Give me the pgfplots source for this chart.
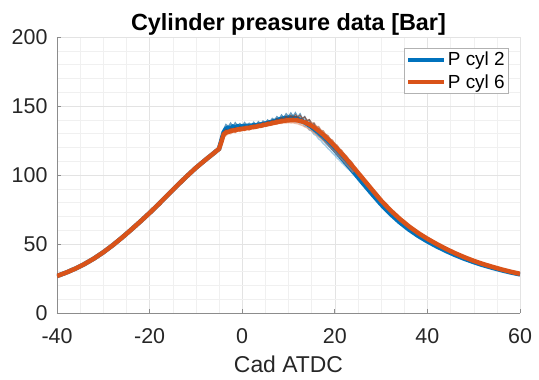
\documentclass[border=0pt]{standalone}
\usepackage{pgfplots}
\pgfplotsset{compat=1.18}
\usepackage{fontspec}
\setmainfont{Liberation Sans}
\definecolor{mblue}{rgb}{0,0.447,0.741}
\definecolor{morange}{rgb}{0.85,0.325,0.098}
\definecolor{axgray}{gray}{0.55}
\definecolor{txt}{gray}{0.15}

\pgfplotstableread{
x y
-40 26.8
-38 29.3
-36 32.2
-34 35.6
-32 39.5
-30 44.0
-28 49.0
-26 54.5
-24 60.3
-22 66.3
-20 72.5
-18 79.0
-16 85.8
-14 92.5
-12 99.0
-10 105.2
-8 110.8
-6 116.2
-5 119.0
-4.5 124.0
-4 129.5
-3.5 130.8
-3 131.2
-2.5 131.9
-2 132.3
-1.5 132.4
-1 133.0
-0.5 133.1
0 133.5
0.5 133.6
1 134.1
1.5 134.0
2 134.6
2.5 134.8
3 135.0
3.5 135.5
4 135.6
4.5 136.2
5 136.4
5.5 136.9
6 137.1
6.5 137.6
7 137.9
7.5 138.3
8 138.6
8.5 139.0
9 139.2
9.5 139.5
10 139.6
10.5 139.8
11 139.7
11.5 139.8
12 139.5
12.5 139.2
13 138.7
13.5 138.2
14 137.4
14.5 136.6
15 135.6
15.5 134.6
16 133.3
16.5 132.0
17 130.6
17.5 129.2
18 127.6
18.5 126.0
19 124.3
19.5 122.6
20 120.8
20.5 119.0
21 117.2
21.5 115.4
22 113.5
22.5 111.6
23 109.6
23.5 107.7
24 105.7
26 97.6
28 89.5
30 81.5
32 74.5
34 68.3
36 62.8
38 58.0
40 53.8
42 50.0
44 46.5
46 43.3
48 40.4
50 37.8
52 35.5
54 33.5
56 31.6
58 29.9
60 28.4
}\orangemain

\pgfplotstableread{
x y
-40 26.8
-38 29.3
-36 32.2
-34 35.6
-32 39.5
-30 44.0
-28 49.0
-26 54.5
-24 60.3
-22 66.3
-20 72.5
-18 79.0
-16 85.8
-14 92.5
-12 99.0
-10 105.2
-8 110.8
-6 116.2
-5 119.0
-4.5 125.0
-4 131.0
-3.5 133.5
-3 134.2
-2.5 134.0
-2 135.1
-1.5 134.6
-1 135.3
-0.5 135.0
0 135.4
0.5 135.2
1 135.6
1.5 135.4
2 135.8
2.5 136.0
3 135.9
3.5 136.4
4 136.6
4.5 136.9
5 137.3
5.5 137.6
6 138.2
6.5 138.5
7 139.1
7.5 139.6
8 140.2
8.5 140.6
9 141.1
9.5 141.3
10 141.5
10.5 141.6
11 141.5
11.5 141.2
12 140.6
12.5 140.0
13 139.1
13.5 138.2
14 137.0
14.5 135.9
15 134.6
15.5 133.2
16 131.7
16.5 130.2
17 128.6
17.5 127.0
18 125.3
18.5 123.5
19 121.7
19.5 119.9
20 118.0
20.5 116.1
21 114.2
21.5 112.3
22 110.3
22.5 108.4
23 106.4
23.5 104.4
24 102.4
26 94.3
28 86.4
30 78.7
32 71.8
34 65.8
36 60.5
38 55.9
40 51.9
42 48.3
44 45.0
46 42.0
48 39.3
50 36.9
52 34.7
54 32.8
56 31.0
58 29.4
60 28.0
}\bluemain

\pgfplotstableread{
x y
-5 118
-4.5 126
-4 133
-3.5 136.5
-3 135
-2.5 137.5
-2 134.5
-1.5 137.8
-1 135.6
-0.5 137.2
0 135.1
0.5 137.9
1 136.0
1.5 137.4
2 135.6
2.5 138.1
3 136.3
3.5 138.5
4 136.8
4.5 139.0
5 137.6
5.5 139.8
6 138.4
6.5 140.9
7 139.7
7.5 142.2
8 140.8
8.5 143.4
9 141.6
9.5 144.3
10 142.2
10.5 144.8
11 142.5
11.5 145.0
12 141.9
12.5 144.2
13 140.6
13.5 142.3
14 138.8
14.5 139.9
15 136.1
15.5 137.0
16 132.8
16.5 133.6
17 129.7
17.5 130.0
18 125.9
18.5 126.1
19 122.2
19.5 122.0
20 118.0
20.5 118.3
21 114.0
21.5 114.4
22 110.1
22.5 110.3
23 106.2
23.5 106.0
24 102.2
}\blueA

\pgfplotstableread{
x y
-5 121
-4.5 122.5
-4 127.8
-3.5 129.5
-3 132.4
-2.5 131.0
-2 133.2
-1.5 131.6
-1 133.9
-0.5 132.3
0 134.5
0.5 133.0
1 134.8
1.5 133.4
2 135.3
2.5 133.9
3 135.7
3.5 134.6
4 136.2
4.5 135.0
5 136.9
5.5 135.8
6 137.6
6.5 136.8
7 138.4
7.5 137.5
8 139.3
8.5 138.1
9 139.8
9.5 138.6
10 140.0
10.5 138.9
11 139.9
11.5 138.4
12 139.0
12.5 137.3
13 137.4
13.5 135.3
14 135.0
14.5 132.6
15 132.0
15.5 129.5
16 128.6
16.5 126.2
17 125.0
17.5 122.8
18 121.4
18.5 119.3
19 117.8
19.5 115.8
20 114.3
20.5 112.3
21 110.8
21.5 108.9
22 107.4
22.5 105.6
23 104.1
23.5 102.4
24 100.9
}\blueB

\pgfplotstableread{
x y
-5 119
-4.5 125.5
-4 130.8
-3.5 132.9
-3 131.5
-2.5 133.8
-2 132.6
-1.5 134.4
-1 133.1
-0.5 134.9
0 133.7
0.5 135.3
1 134.2
1.5 135.8
2 134.9
2.5 136.4
3 135.6
3.5 137.0
4 136.1
4.5 137.8
5 136.9
5.5 138.6
6 137.8
6.5 139.5
7 138.7
7.5 140.6
8 139.6
8.5 141.5
9 140.5
9.5 142.4
10 141.1
10.5 143.0
11 141.5
11.5 143.4
12 141.6
12.5 143.1
13 141.0
13.5 142.0
14 139.6
14.5 140.1
15 137.6
15.5 137.7
16 135.2
16.5 135.0
17 132.4
17.5 131.9
18 129.4
18.5 128.6
19 126.1
19.5 125.1
20 122.6
20.5 121.5
21 119.0
21.5 117.7
22 115.3
22.5 113.8
23 111.4
23.5 109.8
24 107.5
}\orangeA

\pgfplotstableread{
x y
-5 119
-4.5 122.5
-4 127.5
-3.5 128.6
-3 130.2
-2.5 129.9
-2 131.1
-1.5 130.8
-1 131.9
-0.5 131.6
0 132.4
0.5 132.2
1 133.0
1.5 132.9
2 133.7
2.5 133.5
3 134.3
3.5 134.2
4 135.0
4.5 134.9
5 135.7
5.5 135.6
6 136.4
6.5 136.3
7 137.0
7.5 136.9
8 137.6
8.5 137.4
9 138.0
9.5 137.7
10 138.1
10.5 137.8
11 137.9
11.5 137.4
12 137.2
12.5 136.5
13 136.0
13.5 135.0
14 134.3
14.5 133.0
15 132.1
15.5 130.6
16 129.5
16.5 127.9
17 126.7
17.5 125.0
18 123.6
18.5 121.8
19 120.3
19.5 118.4
20 116.9
20.5 115.0
21 113.3
21.5 111.4
22 109.6
22.5 107.6
23 105.8
23.5 103.9
24 101.9
}\orangeB

\begin{document}
\begin{tikzpicture}
\useasboundingbox (-57bp,-67bp) rectangle (482bp,313bp);
\begin{axis}[
  scale only axis,
  width=463bp, height=276bp,
  xmin=-40, xmax=60, ymin=0, ymax=200,
  xtick={-40,-20,0,20,40,60},
  ytick={0,50,100,150,200},
  minor x tick num=3,
  minor y tick num=4,
  grid=both,
  major grid style={gray!22, line width=0.5pt},
  minor grid style={gray!12, line width=0.4pt},
  axis x line*=bottom, axis y line*=left,
  axis line style={axgray, line width=0.8pt},
  tick align=inside,
  major tick length=4bp,
  minor tick length=0pt,
  tick style={axgray, line width=0.8pt},
  /pgf/number format/assume math mode=true,
  ticklabel style={font=\fontsize{21.5}{24}\selectfont, text=txt},
  xticklabel style={yshift=-12bp},
  yticklabel style={xshift=-6bp},
  xlabel={Cad ATDC},
  xlabel style={font=\fontsize{23}{26}\selectfont, text=txt, yshift=-5bp},
  title={Cylinder preasure data [Bar]},
  title style={font=\bfseries\fontsize{23.5}{26}\selectfont, yshift=-8bp},
  legend style={at={(0.976,0.96)}, anchor=north east, draw=gray!60,
    font=\fontsize{19}{22}\selectfont, inner sep=2pt, row sep=3pt,
    cells={anchor=west}},
  legend image code/.code={\draw[#1, line width=3.5bp] (0bp,0bp) -- (36bp,0bp);},
]
\addplot[mblue!80!black, line width=1.5bp, opacity=0.6, forget plot] table {\blueA};
\addplot[mblue!60!white, line width=1.5bp, opacity=0.6, forget plot] table {\blueB};
\addplot[mblue, line width=4.5bp] table {\bluemain};
\addlegendentry{P cyl 2}
\addplot[morange!70!black, line width=1.5bp, opacity=0.55, forget plot] table {\orangeA};
\addplot[morange!70!white, line width=1.5bp, opacity=0.55, forget plot] table {\orangeB};
\addplot[morange, line width=4.5bp] table {\orangemain};
\addlegendentry{P cyl 6}
\end{axis}
\end{tikzpicture}
\end{document}
